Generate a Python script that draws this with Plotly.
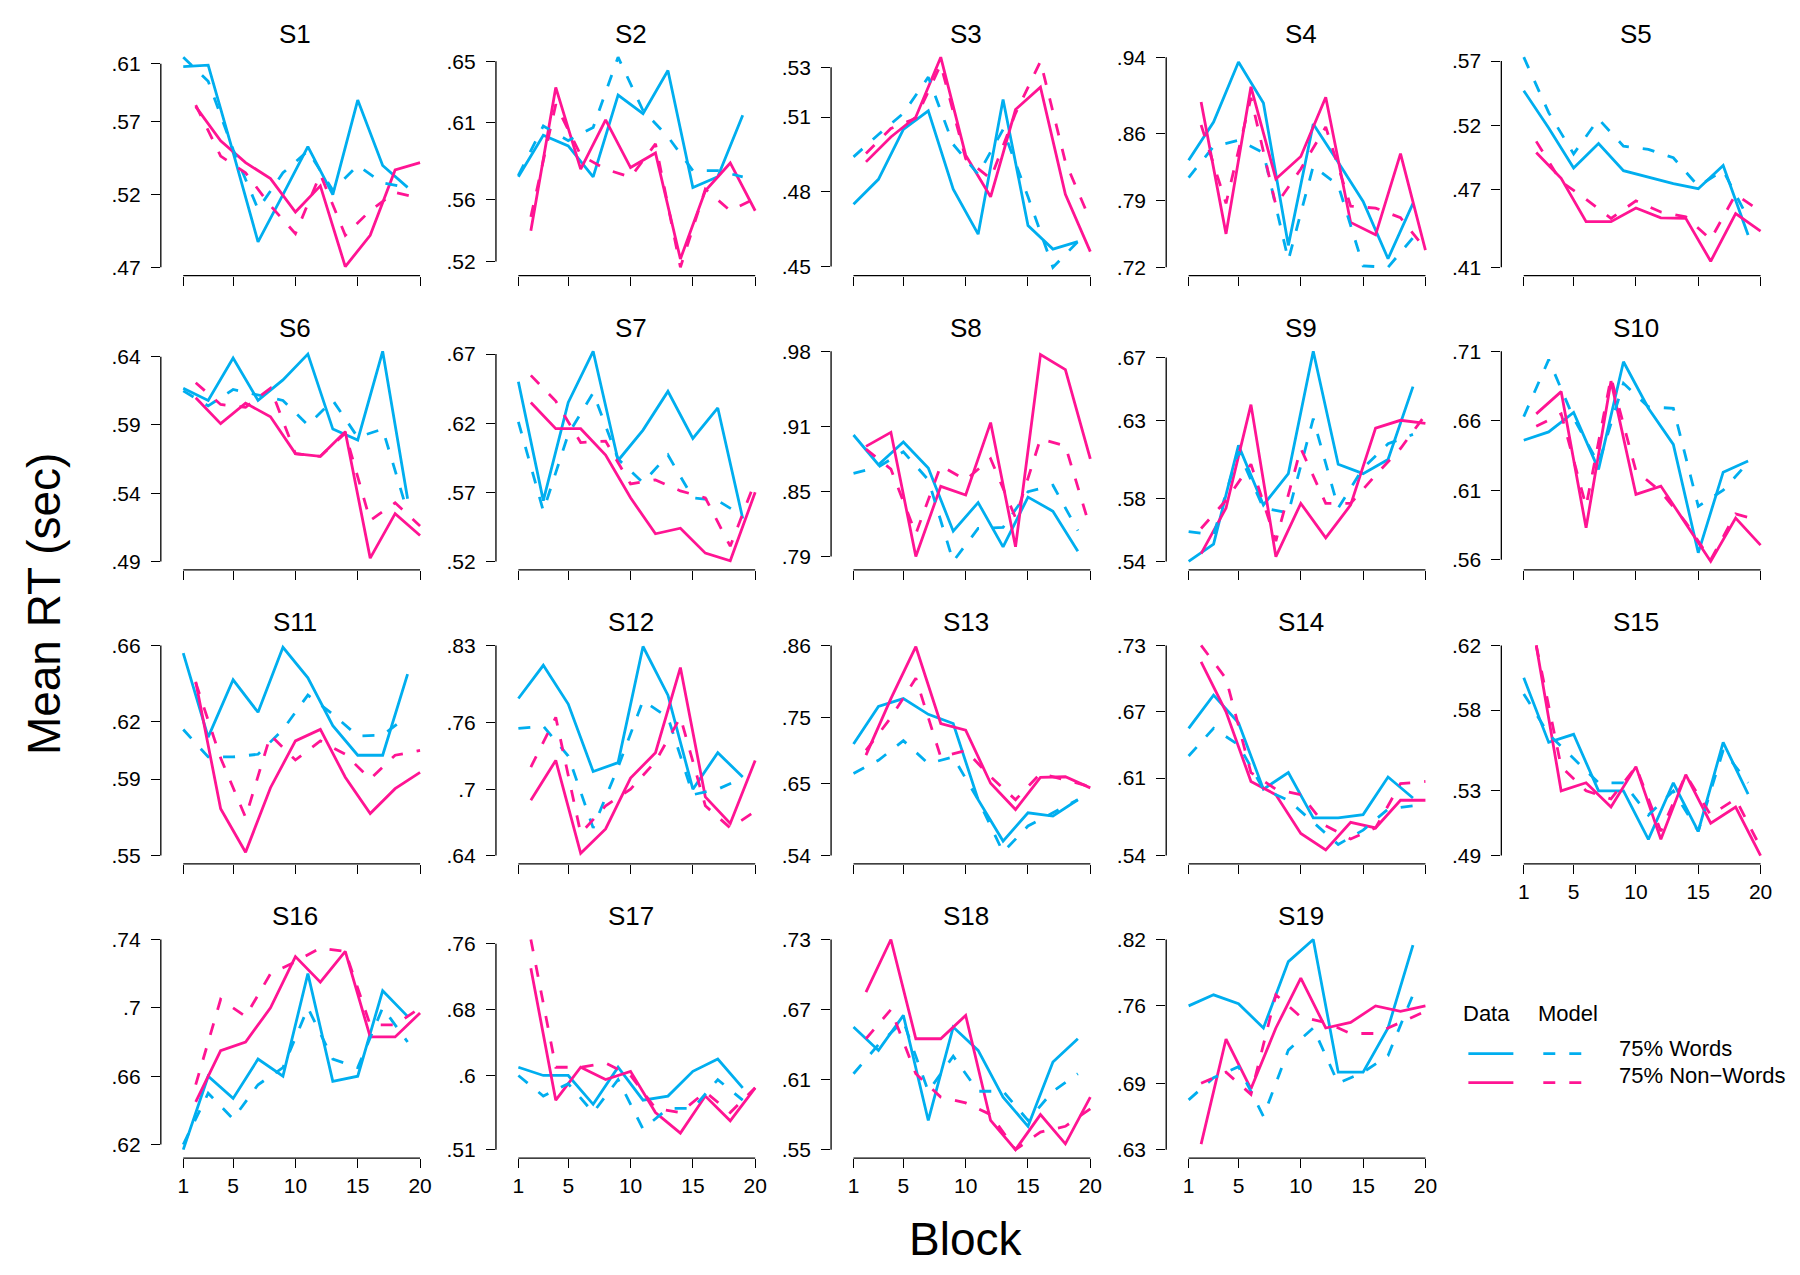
import plotly.graph_objects as go

# ---------------- data ----------------
SUBJECTS = [f"S{i}" for i in range(1, 20)]
BLOCKS_WORDS = [1, 3, 5, 7, 9, 11, 13, 15, 17, 19]
BLOCKS_NONWORDS = [2, 4, 6, 8, 10, 12, 14, 16, 18, 20]
X_TICKS = [1, 5, 10, 15, 20]
X_LIMITS = [0, 20]

Y_TICKLABELS = [
    [".47", ".52", ".57", ".61"], [".52", ".56", ".61", ".65"], [".45", ".48", ".51", ".53"],
    [".72", ".79", ".86", ".94"], [".41", ".47", ".52", ".57"], [".49", ".54", ".59", ".64"],
    [".52", ".57", ".62", ".67"], [".79", ".85", ".91", ".98"], [".54", ".58", ".63", ".67"],
    [".56", ".61", ".66", ".71"], [".55", ".59", ".62", ".66"], [".64", ".7", ".76", ".83"],
    [".54", ".65", ".75", ".86"], [".54", ".61", ".67", ".73"], [".49", ".53", ".58", ".62"],
    [".62", ".66", ".7", ".74"], [".51", ".6", ".68", ".76"], [".55", ".61", ".67", ".73"],
    [".63", ".69", ".76", ".82"],
]

DATA_WORDS = [
    [0.608, 0.609, 0.549, 0.4875, 0.520, 0.553, 0.520, 0.585, 0.540, 0.525],
    [0.575, 0.602, 0.595, 0.575, 0.628, 0.616, 0.644, 0.568, 0.575, 0.615],
    [0.475, 0.485, 0.505, 0.5125, 0.481, 0.463, 0.517, 0.4665, 0.457, 0.460],
    [0.832, 0.872, 0.935, 0.892, 0.743, 0.870, 0.830, 0.789, 0.729, 0.787],
    [0.547, 0.518, 0.487, 0.506, 0.485, 0.480, 0.475, 0.471, 0.489, 0.435],
    [0.617, 0.608, 0.639, 0.608, 0.623, 0.642, 0.587, 0.579, 0.644, 0.536],
    [0.650, 0.564, 0.635, 0.672, 0.593, 0.615, 0.643, 0.609, 0.631, 0.551],
    [0.9025, 0.875, 0.896, 0.872, 0.8135, 0.840, 0.799, 0.845, 0.832, 0.795],
    [0.540, 0.551, 0.614, 0.576, 0.596, 0.674, 0.602, 0.596, 0.605, 0.6515],
    [0.646, 0.652, 0.666, 0.625, 0.7025, 0.669, 0.643, 0.565, 0.623, 0.631],
    [0.656, 0.612, 0.642, 0.625, 0.659, 0.643, 0.618, 0.6025, 0.6025, 0.645],
    [0.782, 0.812, 0.777, 0.716, 0.724, 0.829, 0.785, 0.700, 0.733, 0.711],
    [0.710, 0.767, 0.779, 0.755, 0.741, 0.625, 0.562, 0.605, 0.600, 0.625],
    [0.655, 0.685, 0.660, 0.600, 0.615, 0.574, 0.574, 0.577, 0.611, 0.592],
    [0.600, 0.560, 0.565, 0.530, 0.530, 0.500, 0.535, 0.505, 0.560, 0.528],
    [0.617, 0.660, 0.647, 0.670, 0.660, 0.720, 0.657, 0.660, 0.710, 0.695],
    [0.610, 0.600, 0.600, 0.565, 0.610, 0.570, 0.575, 0.605, 0.620, 0.585],
    [0.655, 0.635, 0.665, 0.575, 0.655, 0.635, 0.595, 0.570, 0.625, 0.645],
    [0.760, 0.770, 0.762, 0.740, 0.800, 0.820, 0.700, 0.700, 0.740, 0.815],
]

MODEL_WORDS = [
    [0.6145, 0.598, 0.551, 0.510, 0.535, 0.550, 0.523, 0.540, 0.528, 0.525],
    [0.576, 0.608, 0.5985, 0.607, 0.6526, 0.618, 0.601, 0.579, 0.579, 0.575],
    [0.494, 0.503, 0.5115, 0.526, 0.499, 0.487, 0.505, 0.478, 0.4497, 0.460],
    [0.814, 0.8465, 0.853, 0.840, 0.7275, 0.826, 0.806, 0.7215, 0.720, 0.751],
    [0.573, 0.530, 0.498, 0.525, 0.504, 0.5015, 0.495, 0.473, 0.485, 0.448],
    [0.615, 0.604, 0.616, 0.612, 0.608, 0.590, 0.608, 0.581, 0.587, 0.526],
    [0.621, 0.5565, 0.612, 0.642, 0.594, 0.577, 0.597, 0.566, 0.564, 0.553],
    [0.867, 0.873, 0.887, 0.861, 0.7855, 0.816, 0.817, 0.850, 0.856, 0.814],
    [0.559, 0.557, 0.610, 0.574, 0.571, 0.631, 0.574, 0.5995, 0.615, 0.621],
    [0.663, 0.704, 0.662, 0.629, 0.687, 0.670, 0.669, 0.5985, 0.610, 0.630],
    [0.616, 0.6016, 0.6016, 0.603, 0.616, 0.634, 0.624, 0.6126, 0.613, 0.623],
    [0.755, 0.757, 0.730, 0.665, 0.720, 0.780, 0.765, 0.695, 0.700, 0.710],
    [0.665, 0.685, 0.715, 0.680, 0.690, 0.625, 0.545, 0.585, 0.605, 0.625],
    [0.630, 0.655, 0.640, 0.600, 0.590, 0.570, 0.550, 0.563, 0.582, 0.585],
    [0.590, 0.565, 0.550, 0.535, 0.535, 0.515, 0.530, 0.505, 0.555, 0.535],
    [0.620, 0.650, 0.635, 0.655, 0.665, 0.700, 0.670, 0.665, 0.700, 0.680],
    [0.600, 0.575, 0.590, 0.555, 0.595, 0.535, 0.560, 0.560, 0.595, 0.570],
    [0.615, 0.640, 0.660, 0.600, 0.630, 0.600, 0.600, 0.575, 0.600, 0.615],
    [0.675, 0.695, 0.705, 0.660, 0.720, 0.740, 0.690, 0.700, 0.715, 0.770],
]

DATA_NONWORDS = [
    [0.5805, 0.557, 0.542, 0.531, 0.508, 0.526, 0.4705, 0.492, 0.537, 0.542],
    [0.540, 0.633, 0.580, 0.612, 0.581, 0.5905, 0.5217, 0.566, 0.584, 0.553],
    [0.492, 0.502, 0.510, 0.534, 0.4947, 0.478, 0.513, 0.522, 0.479, 0.456],
    [0.893, 0.755, 0.909, 0.8125, 0.836, 0.898, 0.767, 0.754, 0.839, 0.738],
    [0.499, 0.479, 0.4454, 0.4454, 0.456, 0.4484, 0.448, 0.4147, 0.4516, 0.438],
    [0.610, 0.591, 0.606, 0.596, 0.569, 0.567, 0.585, 0.4924, 0.525, 0.509],
    [0.635, 0.616, 0.616, 0.597, 0.566, 0.540, 0.544, 0.526, 0.5205, 0.570],
    [0.892, 0.905, 0.790, 0.855, 0.847, 0.914, 0.799, 0.977, 0.963, 0.8805],
    [0.545, 0.574, 0.640, 0.543, 0.577, 0.555, 0.576, 0.625, 0.630, 0.628],
    [0.665, 0.681, 0.583, 0.6885, 0.607, 0.613, 0.586, 0.5588, 0.590, 0.5705],
    [0.641, 0.5745, 0.5517, 0.5855, 0.610, 0.616, 0.591, 0.572, 0.585, 0.5935],
    [0.690, 0.726, 0.642, 0.664, 0.710, 0.733, 0.810, 0.693, 0.669, 0.726],
    [0.693, 0.779, 0.858, 0.741, 0.731, 0.650, 0.610, 0.659, 0.660, 0.643],
    [0.715, 0.670, 0.607, 0.595, 0.560, 0.545, 0.570, 0.565, 0.590, 0.590],
    [0.620, 0.530, 0.535, 0.520, 0.545, 0.500, 0.540, 0.510, 0.520, 0.490],
    [0.645, 0.675, 0.680, 0.700, 0.730, 0.715, 0.733, 0.683, 0.683, 0.697],
    [0.730, 0.570, 0.610, 0.595, 0.605, 0.555, 0.530, 0.575, 0.545, 0.585],
    [0.685, 0.730, 0.645, 0.645, 0.665, 0.575, 0.550, 0.580, 0.555, 0.595],
    [0.635, 0.730, 0.685, 0.740, 0.785, 0.740, 0.745, 0.760, 0.755, 0.760],
]

MODEL_NONWORDS = [
    [0.5816, 0.5465, 0.535, 0.5124, 0.4931, 0.534, 0.492, 0.509, 0.5215, 0.5174],
    [0.549, 0.622, 0.589, 0.580, 0.5747, 0.5964, 0.5163, 0.567, 0.553, 0.561],
    [0.4954, 0.5054, 0.5095, 0.531, 0.4933, 0.4853, 0.5115, 0.5323, 0.492, 0.4685],
    [0.869, 0.787, 0.8975, 0.785, 0.823, 0.867, 0.784, 0.782, 0.772, 0.739],
    [0.5077, 0.4765, 0.4628, 0.4479, 0.4616, 0.4529, 0.4491, 0.4317, 0.4666, 0.4534],
    [0.621, 0.605, 0.603, 0.617, 0.569, 0.567, 0.584, 0.520, 0.533, 0.516],
    [0.6546, 0.636, 0.606, 0.607, 0.576, 0.579, 0.571, 0.566, 0.531, 0.578],
    [0.8895, 0.871, 0.811, 0.874, 0.861, 0.8805, 0.826, 0.899, 0.8925, 0.816],
    [0.561, 0.579, 0.602, 0.553, 0.612, 0.577, 0.577, 0.595, 0.612, 0.6335],
    [0.656, 0.665, 0.5985, 0.691, 0.624, 0.609, 0.587, 0.560, 0.593, 0.588],
    [0.6405, 0.601, 0.570, 0.613, 0.600, 0.610, 0.603, 0.590, 0.6025, 0.605],
    [0.720, 0.765, 0.660, 0.685, 0.700, 0.725, 0.765, 0.685, 0.665, 0.680],
    [0.700, 0.750, 0.810, 0.690, 0.700, 0.660, 0.625, 0.665, 0.655, 0.645],
    [0.730, 0.700, 0.615, 0.600, 0.595, 0.567, 0.555, 0.565, 0.605, 0.607],
    [0.620, 0.545, 0.530, 0.525, 0.545, 0.505, 0.540, 0.515, 0.525, 0.495],
    [0.655, 0.705, 0.695, 0.720, 0.727, 0.735, 0.733, 0.690, 0.690, 0.700],
    [0.765, 0.610, 0.610, 0.615, 0.600, 0.560, 0.555, 0.580, 0.555, 0.585],
    [0.645, 0.670, 0.615, 0.595, 0.590, 0.580, 0.550, 0.565, 0.570, 0.585],
    [0.690, 0.700, 0.680, 0.770, 0.750, 0.745, 0.735, 0.735, 0.745, 0.755],
]

LEGEND_HEADERS = ["Data", "Model"]
SERIES_NAMES = ["75% Words", "75% Non\u2212Words"]

# ---------------- style / layout constants ----------------
W, H = 1800, 1275
CYAN = "#00AEEF"
PINK = "#FF1493"
FONT = "Liberation Sans, Arial, Helvetica, sans-serif"
LW = 2.8
DASH = "12px,14px"
PLOT_LEFT0, COL_STEP, PLOT_W = 161, 335.5, 269.5
ROW_BOTTOM0, ROW_STEP, PLOT_H = 274, 295.5, 228
NCOL = 5
TICKFONT = dict(family=FONT, size=21, color="black")

fig = go.Figure()
layout = {}
shapes = []
annotations = []

for i, subj in enumerate(SUBJECTS):
    n = i + 1
    r, c = divmod(i, NCOL)
    xs = "x" if n == 1 else f"x{n}"
    ys = "y" if n == 1 else f"y{n}"
    xkey = "xaxis" if n == 1 else f"xaxis{n}"
    ykey = "yaxis" if n == 1 else f"yaxis{n}"

    left = PLOT_LEFT0 + COL_STEP * c
    right = left + PLOT_W
    bottom = ROW_BOTTOM0 + ROW_STEP * r
    top = bottom - PLOT_H

    series = [
        (BLOCKS_WORDS, DATA_WORDS[i], CYAN, "solid", "legend", SERIES_NAMES[0]),
        (BLOCKS_NONWORDS, DATA_NONWORDS[i], PINK, "solid", "legend", SERIES_NAMES[1]),
        (BLOCKS_WORDS, MODEL_WORDS[i], CYAN, DASH, "legend2", SERIES_NAMES[0]),
        (BLOCKS_NONWORDS, MODEL_NONWORDS[i], PINK, DASH, "legend2", SERIES_NAMES[1]),
    ]
    for bx, vals, col, dash, leg, sname in series:
        kind = "Data" if leg == "legend" else "Model"
        fig.add_trace(go.Scatter(
            x=bx, y=vals, mode="lines", xaxis=xs, yaxis=ys,
            line=dict(color=col, width=LW, dash=dash),
            name=" ", legend=leg, showlegend=(i == 0),
            hovertemplate=f"{subj} {kind} {sname}<br>Block %{{x}}: %{{y:.3f}}<extra></extra>",
        ))

    ytv = [float("0" + t) for t in Y_TICKLABELS[i]]
    allv = DATA_WORDS[i] + DATA_NONWORDS[i] + MODEL_WORDS[i] + MODEL_NONWORDS[i] + ytv
    lo, hi = min(allv), max(allv)
    pad = 0.04 * (hi - lo)
    xpad = 0.04 * (X_LIMITS[1] - X_LIMITS[0])
    bottom_row = (r == 3) or (i + NCOL >= len(SUBJECTS))

    layout[xkey] = dict(
        domain=[left / W, right / W], anchor=ys,
        range=[X_LIMITS[0] - xpad, X_LIMITS[1] + xpad],
        showgrid=False, zeroline=False, showline=False,
        ticks="outside", ticklen=9, tickwidth=1.3, tickcolor="black",
        tickvals=X_TICKS, ticktext=[str(t) for t in X_TICKS],
        showticklabels=bottom_row, tickfont=TICKFONT, ticklabelstandoff=0,
        fixedrange=True,
    )
    layout[ykey] = dict(
        domain=[1 - bottom / H, 1 - top / H], anchor=xs,
        range=[lo - pad, hi + pad],
        showgrid=False, zeroline=False, showline=False,
        ticks="outside", ticklen=9, tickwidth=1.3, tickcolor="black",
        tickvals=ytv, ticktext=Y_TICKLABELS[i],
        tickfont=TICKFONT, ticklabelstandoff=6, fixedrange=True,
    )
    # R-style axis lines spanning only the tick range
    shapes.append(dict(type="line", xref=f"{xs} domain", yref=ys, x0=0, x1=0,
                       y0=ytv[0], y1=ytv[-1], line=dict(color="black", width=1.3)))
    shapes.append(dict(type="line", xref=xs, yref=f"{ys} domain", x0=X_TICKS[0], x1=X_TICKS[-1],
                       y0=0, y1=0, line=dict(color="black", width=1.3)))
    annotations.append(dict(text=subj, xref="paper", yref="paper",
                            x=(left + right) / 2 / W, y=1 - (top - 15) / H,
                            xanchor="center", yanchor="middle", showarrow=False,
                            font=dict(family=FONT, size=26, color="black")))

annotations.append(dict(text="Mean RT (sec)", xref="paper", yref="paper",
                        x=44 / W, y=1 - 603 / H, textangle=-90, showarrow=False,
                        xanchor="center", yanchor="middle",
                        font=dict(family=FONT, size=46, color="black")))
annotations.append(dict(text="Block", xref="paper", yref="paper",
                        x=967 / W, y=1 - 1242 / H, showarrow=False,
                        xanchor="center", yanchor="middle",
                        font=dict(family=FONT, size=46, color="black")))

# legend headers and labels
LEG_FONT = dict(family=FONT, size=22, color="black")
for txt, xl in zip(LEGEND_HEADERS, [1463, 1538]):
    annotations.append(dict(text=txt, xref="paper", yref="paper", x=xl / W, y=1 - 1015 / H,
                            xanchor="left", yanchor="middle", showarrow=False, font=LEG_FONT))
for txt, yc in zip(SERIES_NAMES, [1050, 1078]):
    annotations.append(dict(text=txt, xref="paper", yref="paper", x=1619 / W, y=1 - yc / H,
                            xanchor="left", yanchor="middle", showarrow=False, font=LEG_FONT))

fig.update_layout(
    width=W, height=H,
    margin=dict(l=0, r=0, t=0, b=0),
    paper_bgcolor="white", plot_bgcolor="white",
    font=dict(family=FONT, color="black"),
    shapes=shapes, annotations=annotations,
    legend=dict(x=1465 / W, y=1 - 1036 / H, xanchor="left", yanchor="top",
                font=dict(family=FONT, size=20), bgcolor="rgba(0,0,0,0)", itemwidth=45,
                traceorder="normal", itemclick=False, itemdoubleclick=False),
    legend2=dict(x=1540 / W, y=1 - 1036 / H, xanchor="left", yanchor="top",
                 font=dict(family=FONT, size=20), bgcolor="rgba(0,0,0,0)", itemwidth=42,
                 traceorder="normal", itemclick=False, itemdoubleclick=False),
    **layout,
)

fig.write_html("out.html")
